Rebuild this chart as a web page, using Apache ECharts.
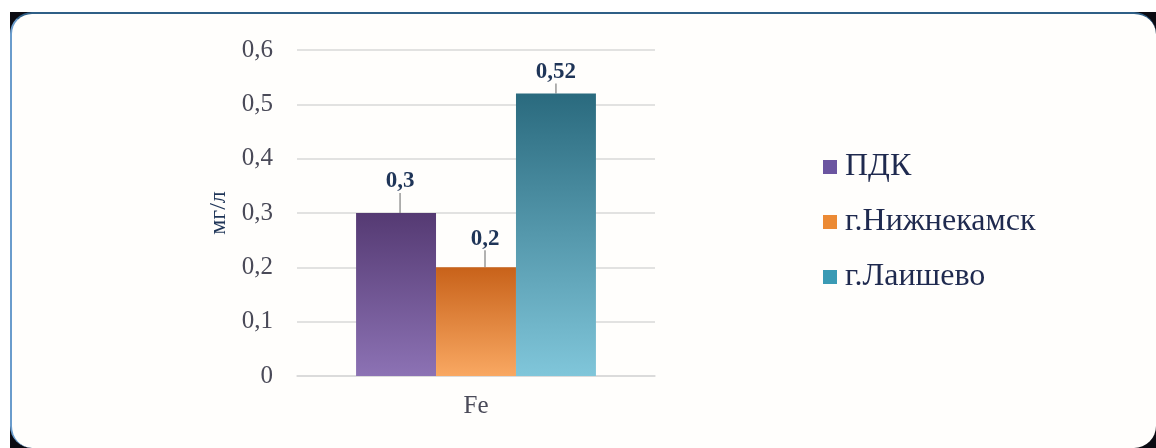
<!DOCTYPE html>
<html>
<head>
<meta charset="utf-8">
<script src="https://cdn.jsdelivr.net/npm/echarts@6/dist/echarts.min.js"></script>
<style>
  html, body { margin: 0; padding: 0; background: #ffffff; }
  #frame-back { position: absolute; left: 10px; top: 12px; width: 1146px; height: 436px; background: #0b0b12; }
  #frame { position: absolute; left: 0; top: 0; right: 0; bottom: 0; background: #fffefc;
           border-radius: 22px; border-top: 2px solid #2f5f86; border-left: 2px solid #6a9ccc;
           box-sizing: border-box; }
  #chart { position: absolute; left: 0; top: 0; width: 1156px; height: 448px; }
</style>
</head>
<body>
<div id="frame-back"><div id="frame"></div></div>
<div id="chart"></div>
<script>
// Iron concentration, mg/l
const categories = ['Fe'];
const seriesNames = ['ПДК', 'г.Нижнекамск', 'г.Лаишево'];
const valuesPdk = [0.3];
const valuesNizhnekamsk = [0.2];
const valuesLaishevo = [0.52];
const yTicks = [0, 0.1, 0.2, 0.3, 0.4, 0.5, 0.6];

const serif = '"Liberation Serif", "DejaVu Serif", serif';
const fmt = v => (v === 0 ? '0' : String(v).replace('.', ','));

function grad(top, bottom) {
  return new echarts.graphic.LinearGradient(0, 0, 0, 1, [
    { offset: 0, color: top },
    { offset: 1, color: bottom }
  ]);
}

function barSeries(name, data, top, bottom, dx, dy) {
  return {
    name: name,
    type: 'bar',
    data: data,
    barGap: '0%',
    barCategoryGap: '33%',
    itemStyle: { color: grad(top, bottom) },
    label: {
      show: true,
      position: 'top',
      distance: 4,
      fontFamily: serif,
      fontWeight: 'bold',
      fontSize: 23,
      color: '#1f3558',
      formatter: p => fmt(p.value)
    },
    labelLayout: { dx: dx, dy: dy },
    labelLine: { show: true, lineStyle: { color: '#7f7f7f', width: 1.2 } }
  };
}

const chart = echarts.init(document.getElementById('chart'));
chart.setOption({
  backgroundColor: 'transparent',
  animation: false,
  color: ['#6b4f92', '#e8842e', '#3a9ab4'],
  grid: { left: 297, right: 501, top: 50, bottom: 72 },
  legend: {
    orient: 'vertical',
    left: 818,
    top: 146,
    itemGap: 23,
    icon: 'rect',
    itemWidth: 14,
    itemHeight: 14,
    textStyle: { fontFamily: serif, fontSize: 32, color: '#1f2a4f', lineHeight: 32, padding: [0, 0, 0, 3] },
    data: [
      { name: seriesNames[0], itemStyle: { color: '#6b55a0' } },
      { name: seriesNames[1], itemStyle: { color: '#ec8a34' } },
      { name: seriesNames[2], itemStyle: { color: '#3a9ab4' } }
    ]
  },
  xAxis: {
    type: 'category',
    data: categories,
    axisLine: { show: true, lineStyle: { color: '#d9d9d9', width: 1.5 } },
    axisTick: { show: false },
    axisLabel: { fontFamily: serif, fontSize: 25, color: '#4a4a58', margin: 18 }
  },
  yAxis: {
    type: 'value',
    min: 0,
    max: 0.6,
    interval: 0.1,
    name: 'мг/л',
    nameLocation: 'middle',
    nameGap: 66,
    nameRotate: 90,
    nameTextStyle: { fontFamily: serif, fontSize: 24, color: '#1f3558' },
    axisLine: { show: false },
    axisTick: { show: false },
    splitLine: { lineStyle: { color: '#d9d9d9', width: 1.5 } },
    axisLabel: {
      fontFamily: serif,
      fontSize: 25,
      color: '#4a4a58',
      margin: 24,
      formatter: v => fmt(yTicks.find(t => Math.abs(t - v) < 1e-9) ?? v)
    }
  },
  series: [
    barSeries(seriesNames[0], valuesPdk, '#553a73', '#8c72b4', 4, -16),
    barSeries(seriesNames[1], valuesNizhnekamsk, '#c8621a', '#f9a862', 9, -13),
    barSeries(seriesNames[2], valuesLaishevo, '#2a6a7e', '#80c6da', 0, -6)
  ]
});
</script>
</body>
</html>
